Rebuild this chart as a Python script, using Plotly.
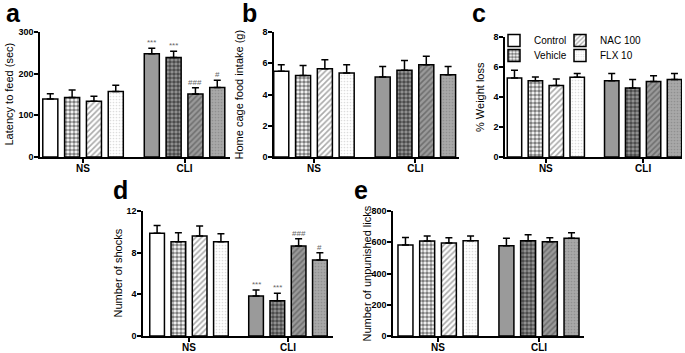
import plotly.graph_objects as go

groups = ["NS", "CLI"]
treatments = ["Control", "Vehicle", "NAC 100", "FLX 10"]

# panel a: latency to feed (sec)
a_mean = {"Control": [139, 248], "Vehicle": [143, 239], "NAC 100": [134, 151], "FLX 10": [157, 167]}
a_top = {"Control": [152, 261], "Vehicle": [161, 254], "NAC 100": [146, 166], "FLX 10": [172, 184]}
a_marks = {"Control": ["", "***"], "Vehicle": ["", "***"], "NAC 100": ["", "###"], "FLX 10": ["", "#"]}

# panel b: home cage food intake (g)
b_mean = {"Control": [5.48, 5.12], "Vehicle": [5.22, 5.55], "NAC 100": [5.65, 5.9], "FLX 10": [5.37, 5.27]}
b_top = {"Control": [5.9, 5.8], "Vehicle": [5.86, 6.18], "NAC 100": [6.23, 6.44], "FLX 10": [5.9, 5.8]}

# panel c: % weight loss
c_mean = {"Control": [5.27, 5.09], "Vehicle": [5.09, 4.6], "NAC 100": [4.76, 5.04], "FLX 10": [5.31, 5.16]}
c_top = {"Control": [5.78, 5.56], "Vehicle": [5.33, 5.16], "NAC 100": [5.2, 5.42], "FLX 10": [5.56, 5.56]}

# panel d: number of shocks
d_mean = {"Control": [9.86, 3.84], "Vehicle": [9.06, 3.39], "NAC 100": [9.6, 8.64], "FLX 10": [9.06, 7.3]}
d_top = {"Control": [10.6, 4.42], "Vehicle": [9.92, 4.1], "NAC 100": [10.56, 9.34], "FLX 10": [9.82, 8.0]}
d_marks = {"Control": ["", "***"], "Vehicle": ["", "***"], "NAC 100": ["", "###"], "FLX 10": ["", "#"]}

# panel e: number of unpunished licks
e_mean = {"Control": [582, 578], "Vehicle": [608, 610], "NAC 100": [595, 603], "FLX 10": [610, 625]}
e_top = {"Control": [631, 625], "Vehicle": [640, 648], "NAC 100": [629, 629], "FLX 10": [640, 661]}

FONT = "Arial, Liberation Sans, sans-serif"
W, H = 685, 353

GREY = "#9a9a9a"
styles = {
    "Control": [dict(color="white", pattern=dict(shape="")),
                dict(color=GREY, pattern=dict(shape=""))],
    "Vehicle": [dict(color="white", pattern=dict(shape=".", fgcolor="black", bgcolor="white", size=4, solidity=0.65)),
                dict(color=GREY, pattern=dict(shape=".", fgcolor="black", bgcolor=GREY, size=4, solidity=0.65))],
    "NAC 100": [dict(color="white", pattern=dict(shape="/", fgcolor="#555555", bgcolor="white", size=4, solidity=0.4)),
                dict(color=GREY, pattern=dict(shape="/", fgcolor="#444444", bgcolor=GREY, size=4, solidity=0.4))],
    "FLX 10": [dict(color="white", pattern=dict(shape=".", fgcolor="#bbbbbb", bgcolor="white", size=3, solidity=0.25)),
               dict(color=GREY, pattern=dict(shape=".", fgcolor="#777777", bgcolor="#a8a8a8", size=3, solidity=0.25))],
}
# legend placement in panel c: one small legend per entry (2 columns x 2 rows);
# the left column is drawn last so its text is never covered
legend_slot = {"NAC 100": ("legend", 560, 26), "FLX 10": ("legend2", 560, 41),
               "Control": ("legend3", 494, 26), "Vehicle": ("legend4", 494, 41)}

panels = [
    dict(key="a", mean=a_mean, top=a_top, marks=a_marks, px=(40, 230), py=(32, 157), xr=[-0.424, 1.448],
         yr=[0, 300], dt=100, title="Latency to feed (sec)", tx=8, lab=(4, -3)),
    dict(key="b", mean=b_mean, top=b_top, marks=None, px=(274, 459), py=(32, 157), xr=[-0.394, 1.43],
         yr=[0, 8], dt=2, title="Home cage food intake (g)", tx=238, lab=(240, -3)),
    dict(key="c", mean=c_mean, top=c_top, marks=None, px=(505, 682), py=(37, 157), xr=[-0.42, 1.40],
         yr=[0, 8], dt=2, title="% Weight loss", tx=480, lab=(470, -3)),
    dict(key="d", mean=d_mean, top=d_top, marks=d_marks, px=(143, 333), py=(211, 336), xr=[-0.465, 1.455],
         yr=[0, 12], dt=4, title="Number of shocks", tx=117, lab=(111, 174)),
    dict(key="e", mean=e_mean, top=e_top, marks=None, px=(393, 584), py=(211, 336), xr=[-0.446, 1.446],
         yr=[0, 800], dt=200, title="Number of unpunished licks", tx=366, lab=(352, 174)),
]

BARGAP = 0.14
GROUPGAP = 0.31
slot = (1 - BARGAP) / len(treatments)

fig = go.Figure()
annotations = []
for i, p in enumerate(panels):
    n = "" if i == 0 else str(i + 1)
    xa, ya = "x" + n, "y" + n
    for t_i, t in enumerate(treatments):
        for g_i, g in enumerate(groups):
            st = styles[t][g_i]
            mean = p["mean"][t][g_i]
            top = p["top"][t][g_i]
            show = (p["key"] == "c" and g == "NS")
            fig.add_trace(go.Bar(
                x=[g], y=[mean], name=t, xaxis=xa, yaxis=ya,
                offsetgroup=t, showlegend=show,
                legend=legend_slot[t][0] if show else None,
                marker=dict(color=st["color"], pattern=st["pattern"],
                            line=dict(color="black", width=1.5)),
                error_y=dict(type="data", symmetric=False, array=[top - mean], arrayminus=[0],
                             color="black", thickness=1.5, width=3.5),
                hoverinfo="skip",
            ))
            if p["marks"] and p["marks"][t][g_i]:
                annotations.append(dict(
                    x=g_i + (t_i - 1.5) * slot, y=top, xref=xa, yref=ya,
                    text=p["marks"][t][g_i], showarrow=False, yanchor="bottom",
                    yshift=-1, font=dict(family=FONT, size=8, color="#666666")))
    x0, x1 = p["px"]
    y0, y1 = p["py"]
    axis_common = dict(showline=True, linecolor="black", linewidth=1.5, showgrid=False, zeroline=False,
                       ticks="outside", ticklen=4, tickwidth=1.5, tickcolor="black", automargin=False)
    fig.update_layout(**{
        ("xaxis" + n): dict(domain=[x0 / W, x1 / W], anchor=ya, type="category", range=p["xr"],
                            tickfont=dict(family=FONT, size=10, color="black", weight="bold"),
                            ticklabelstandoff=-3, **axis_common),
        ("yaxis" + n): dict(domain=[1 - y1 / H, 1 - y0 / H], anchor=xa, range=p["yr"], dtick=p["dt"],
                            tickfont=dict(family=FONT, size=9, color="black", weight="bold"),
                            ticklabelstandoff=-1, **axis_common),
    })
    annotations.append(dict(x=p["tx"] / W, y=1 - (y0 + y1) / 2 / H, xref="paper", yref="paper",
                            text=p["title"], textangle=-90, showarrow=False, xanchor="center", yanchor="middle",
                            font=dict(family=FONT, size=11, color="black")))
    annotations.append(dict(x=p["lab"][0] / W, y=1 - p["lab"][1] / H, xref="paper", yref="paper",
                            text="<b>" + p["key"] + "</b>", showarrow=False, xanchor="left", yanchor="top",
                            font=dict(family=FONT, size=25, color="black")))

legend_common = dict(xanchor="left", yanchor="top", orientation="v", font=dict(family=FONT, size=10, color="black"),
                     bgcolor="rgba(0,0,0,0)", itemwidth=30, borderwidth=0)
legends = {}
for t, (lname, lx, ly) in legend_slot.items():
    legends[lname] = dict(x=lx / W, y=1 - ly / H, **legend_common)

fig.update_layout(
    width=W, height=H, margin=dict(l=0, r=0, t=0, b=0, autoexpand=False),
    paper_bgcolor="white", plot_bgcolor="white",
    barmode="group", bargap=BARGAP, bargroupgap=GROUPGAP,
    annotations=annotations, **legends,
)

fig.write_html("out.html", config={"displayModeBar": False},
               post_script="document.body.style.margin='0';document.body.style.overflow='hidden';")
